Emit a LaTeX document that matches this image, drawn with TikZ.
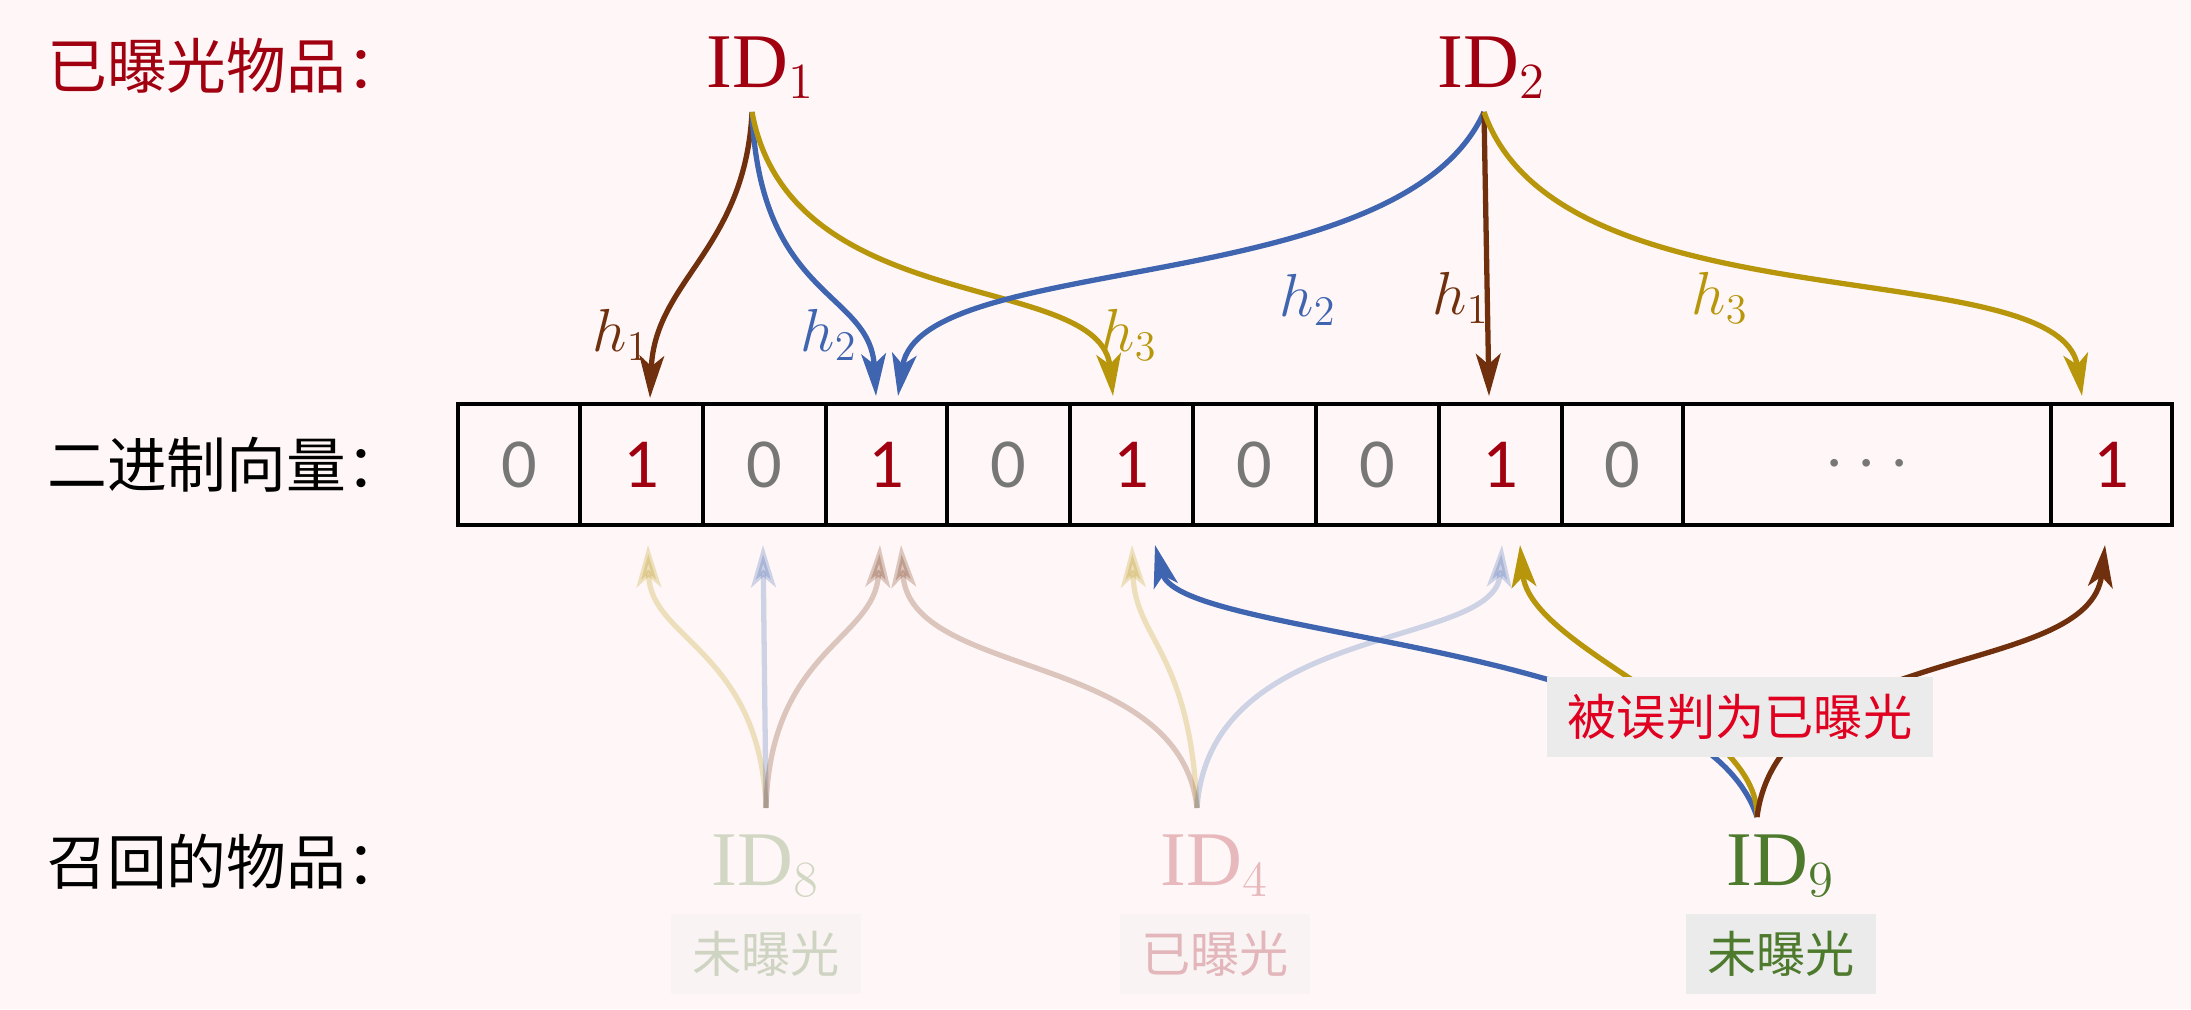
\documentclass[tikz,border=0pt]{standalone}
\usepackage{fontspec}
\setmainfont{Liberation Serif}
\newfontfamily\cjk{Noto Sans CJK SC}
\newfontfamily\digf{Carlito}
\usetikzlibrary{arrows.meta}
\definecolor{cbrown}{HTML}{70300E}
\definecolor{cblue}{HTML}{3F64B0}
\definecolor{cgold}{HTML}{B8960C}
\definecolor{cdred}{HTML}{A00010}
\definecolor{cgreen}{HTML}{4E7A2E}
\definecolor{cred}{HTML}{E00020}
\definecolor{cgray}{HTML}{777777}
\definecolor{boxbg}{HTML}{EBEBEB}
\tikzset{
 arr/.style={-{Stealth[length=12pt,width=7pt,inset=3pt]},line width=1.5pt},
 lbl/.style={font=\cjk\fontsize{17}{20}\selectfont,anchor=west},
 cell/.style={draw,line width=1pt,minimum height=121pt*0.3515,inner sep=0pt},
 idn/.style={font=\fontsize{22}{26}\selectfont},
 hl/.style={font=\fontsize{18}{20}\selectfont},
 dig/.style={font=\digf\fontsize{20}{24}\selectfont},
 tag/.style={font=\cjk\fontsize{14}{17}\selectfont,fill=boxbg,inner xsep=6pt,inner ysep=5pt},
 pale/.style={opacity=0.25}
}
\begin{document}
\begin{tikzpicture}[x=0.01cm,y=-0.01cm]
\fill[white!97!red] (0,0) rectangle (2191,1009);
\useasboundingbox (0,0) rectangle (2191,1009);
\node[lbl,text=cdred] (l1) at (35,66) {已曝光物品：};
\node[lbl] (l2) at (35,465) {二进制向量：};
\node[lbl] (l3) at (35,862) {召回的物品：};
% cells
\foreach \a/\b/\v/\c [count=\i] in {458/580/0/cgray,580/703/1/cdred,703/826/0/cgray,826/947/1/cdred,947/1070/0/cgray,1070/1193/1/cdred,1193/1316/0/cgray,1316/1439/0/cgray,1439/1562/1/cdred,1562/1683/0/cgray,1683/2051/\ensuremath{\cdots}/cgray,2051/2172/1/cdred}{
 \draw[line width=1pt] (\a,404) rectangle (\b,525);
 \node[dig,text=\c] (c\i) at ({(\a+\b)/2},465) {\v};
}
\node[idn,text=cdred] (id1) at (761,68) {ID$_1$};
\node[idn,text=cdred] (id2) at (1492,68) {ID$_2$};
\coordinate (s1) at (752,112);
\coordinate (s2) at (1484,112);
\draw[arr,cbrown] (s1) .. controls (745,250) and (655,280) .. (650,398);
\draw[arr,cblue] (s1) .. controls (760,300) and (870,290) .. (876,396);
\draw[arr,cgold] (s1) .. controls (790,320) and (1100,270) .. (1113,396);
\draw[arr,cblue] (s2) .. controls (1400,300) and (920,250) .. (898,396);
\draw[arr,cbrown] (s2) -- (1489,396);
\draw[arr,cgold] (s2) .. controls (1560,330) and (2060,250) .. (2082,396);
\node[hl,text=cbrown] (h1a) at (621,335) {$h_1$};
\node[hl,text=cblue] (h2a) at (829,335) {$h_2$};
\node[hl,text=cgold] (h3a) at (1129,335) {$h_3$};
\node[hl,text=cblue] (h2b) at (1308,300) {$h_2$};
\node[hl,text=cbrown] (h1b) at (1461,298) {$h_1$};
\node[hl,text=cgold] (h3b) at (1720,298) {$h_3$};
% bottom
\coordinate (b8) at (766,808);
\coordinate (b4) at (1197,808);
\coordinate (b9) at (1757,817);
\draw[arr,cgold,pale] (b8) .. controls (760,650) and (650,640) .. (648,545);
\draw[arr,cblue,pale] (b8) -- (763,545);
\draw[arr,cbrown,pale] (b8) .. controls (770,650) and (875,640) .. (880,545);
\draw[arr,cbrown,pale] (b4) .. controls (1180,650) and (910,680) .. (901,545);
\draw[arr,cgold,pale] (b4) .. controls (1190,650) and (1135,640) .. (1132,545);
\draw[arr,cblue,pale] (b4) .. controls (1210,620) and (1495,650) .. (1502,545);
\draw[arr,cblue] (b9) .. controls (1700,640) and (1180,640) .. (1155,545);
\draw[arr,cgold] (b9) .. controls (1760,720) and (1530,650) .. (1520,545);
\draw[arr,cbrown] (b9) .. controls (1780,640) and (2090,680) .. (2105,545);
\node[tag,text=cred] (err) at (1740,717) {被误判为已曝光};
\node[idn,text=cgreen,pale] (id8) at (766,866) {ID$_8$};
\node[idn,text=cdred,pale] (id4) at (1215,866) {ID$_4$};
\node[idn,text=cgreen] (id9) at (1781,866) {ID$_9$};
\node[tag,text=cgreen,pale] (t8) at (766,954) {未曝光};
\node[tag,text=cdred,pale] (t4) at (1215,954) {已曝光};
\node[tag,text=cgreen] (t9) at (1781,954) {未曝光};
\end{tikzpicture}
\end{document}
